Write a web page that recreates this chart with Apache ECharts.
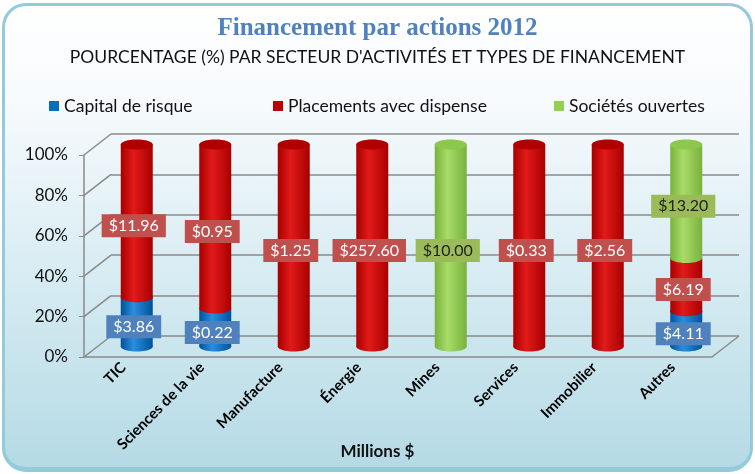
<!DOCTYPE html>
<html>
<head>
<meta charset="utf-8">
<script src="https://cdn.jsdelivr.net/npm/echarts@6/dist/echarts.min.js"></script>
<style>
  body { margin: 0; background: #fff; }
  #frame {
    position: absolute; left: 2px; top: 3px; width: 745px; height: 461px;
    border: 3px solid #93cbdb; border-bottom-width: 5px; border-radius: 24px;
    background: linear-gradient(to bottom, #ffffff 0%, #f6fafc 22%, #d6ebf2 60%, #b5dae5 100%);
  }
  #graph01 { position: absolute; left: 0; top: 0; width: 755px; height: 474px; }
</style>
</head>
<body>
<div id="frame"></div>
<div id="graph01"></div>
<script>
// values in millions $
var categories = ['TIC', 'Sciences de la vie', 'Manufacture', 'Énergie', 'Mines', 'Services', 'Immobilier', 'Autres'];
var capitalRisque = [3.86, 0.22, 0, 0, 0, 0, 0, 4.11];
var placements = [11.96, 0.95, 1.25, 257.60, 0, 0.33, 2.56, 6.19];
var societes = [0, 0, 0, 0, 10.00, 0, 0, 13.20];
var yTicks = [0, 20, 40, 60, 80, 100];

var names = ['Capital de risque', 'Placements avec dispense', 'Sociétés ouvertes'];
var values = [capitalRisque, placements, societes];
var pal = [
    { dark: '#00529a', light: '#2a8ee0', top: '#0d62b0', legend: '#0070c0', box: '#4f81bd', text: '#ffffff' },
    { dark: '#a80000', light: '#e21a1a', top: '#b00000', legend: '#c00000', box: '#c0504d', text: '#ffffff' },
    { dark: '#78b23c', light: '#a8dc68', top: '#8cc84c', legend: '#92d050', box: '#9bbb59', text: '#222222' }
];

// stack to 100%
var segs = [[], [], []];
var allSegs = [];
for (var i = 0; i < categories.length; i++) {
    var total = capitalRisque[i] + placements[i] + societes[i];
    var cum = 0;
    for (var s = 0; s < 3; s++) {
        var v = values[s][i];
        if (v > 0) {
            var pct = v / total * 100;
            var seg = { cat: i, start: cum, end: cum + pct, value: v, s: s };
            segs[s].push(seg);
            allSegs.push(seg);
            cum += pct;
        }
    }
}

var DX = 27, DY = -21;

function cylinderSeries(s) {
    var p = pal[s];
    return {
        name: names[s],
        type: 'custom',
        xAxisIndex: 2,
        yAxisIndex: 2,
        z: 3,
        itemStyle: { color: p.legend },
        encode: { x: 0, y: [1, 2] },
        data: segs[s].map(function (d) { return [d.cat, d.start, d.end]; }),
        renderItem: function (params, api) {
            var a = api.coord([api.value(0), api.value(1)]);
            var b = api.coord([api.value(0), api.value(2)]);
            var rx = 16, ry = 5;
            var grad = new echarts.graphic.LinearGradient(0, 0, 1, 0, [
                { offset: 0, color: p.dark },
                { offset: 0.4, color: p.light },
                { offset: 1, color: p.dark }
            ]);
            var children = [
                { type: 'rect', shape: { x: a[0] - rx, y: b[1], width: rx * 2, height: a[1] - b[1] }, style: { fill: grad } },
                { type: 'ellipse', shape: { cx: a[0], cy: a[1], rx: rx, ry: ry }, style: { fill: grad } }
            ];
            if (api.value(2) >= 99.99) {
                children.push({ type: 'ellipse', shape: { cx: b[0], cy: b[1], rx: rx, ry: ry }, style: { fill: p.top } });
            }
            return { type: 'group', children: children };
        }
    };
}

var series = [cylinderSeries(0), cylinderSeries(1), cylinderSeries(2)];

// value labels
series.push({
    type: 'custom',
    xAxisIndex: 2,
    yAxisIndex: 2,
    z: 6,
    silent: true,
    data: allSegs.map(function (d) { return [d.cat, (d.start + d.end) / 2]; }),
    renderItem: function (params, api) {
        var d = allSegs[params.dataIndex];
        var p = api.coord([api.value(0), api.value(1)]);
        return {
            type: 'text',
            style: {
                text: '$' + d.value.toFixed(2),
                x: p[0] - 3, y: p[1] + 5,
                align: 'center', verticalAlign: 'middle',
                font: '16px Lato', fill: pal[d.s].text,
                backgroundColor: pal[d.s].box, padding: [4, 7, 3, 7]
            }
        };
    }
});

// 3D wall / floor diagonals
series.push({
    type: 'custom',
    xAxisIndex: 0,
    yAxisIndex: 0,
    z: 1,
    silent: true,
    data: yTicks.map(function (t) { return [0, t]; }),
    renderItem: function (params, api) {
        var p = api.coord([0, api.value(1)]);
        var half = api.size([1, 0])[0] / 2;
        var x0 = p[0] - half;
        var lineStyle = { stroke: '#8a8a8a', lineWidth: 1.5 };
        var children = [
            { type: 'line', shape: { x1: x0, y1: p[1], x2: x0 + DX, y2: p[1] + DY }, style: lineStyle }
        ];
        if (api.value(1) === 0) {
            var xr = api.coord([categories.length - 1, 0])[0] + half;
            children.push({ type: 'line', shape: { x1: xr, y1: p[1], x2: xr + DX, y2: p[1] + DY }, style: lineStyle });
        }
        return { type: 'group', children: children };
    }
});

var myChart = echarts.init(document.getElementById('graph01'));
var legendText = { fontFamily: 'Lato', fontSize: 17.5, color: '#111' };
var option = {
    animation: false,
    title: [
        {
            text: 'Financement par actions 2012',
            subtext: "POURCENTAGE (%) PAR SECTEUR D'ACTIVITÉS ET TYPES DE FINANCEMENT",
            left: 'center',
            top: 11,
            itemGap: 7,
            textStyle: { fontFamily: 'Liberation Serif', fontWeight: 'bold', fontSize: 25, color: '#4f81bd' },
            subtextStyle: { fontFamily: 'Lato', fontSize: 17.5, color: '#111' }
        },
        {
            text: 'Millions $',
            left: 'center',
            top: 438,
            textStyle: { fontFamily: 'Lato', fontWeight: 'bold', fontSize: 17, color: '#111' }
        }
    ],
    legend: [
        { data: [names[0]], left: 44, top: 92, icon: 'rect', itemWidth: 10, itemHeight: 10, itemGap: 4, textStyle: legendText },
        { data: [names[1]], left: 268, top: 92, icon: 'rect', itemWidth: 10, itemHeight: 10, textStyle: legendText },
        { data: [names[2]], left: 549, top: 92, icon: 'rect', itemWidth: 10, itemHeight: 10, textStyle: legendText }
    ],
    grid: [
        // front plane (axes)
        { left: 84, right: 43, top: 155, bottom: 117 },
        // back wall
        { left: 84 + DX, right: 43 - DX, top: 155 + DY, bottom: 117 - DY },
        // cylinders, mid depth
        { left: 84 + DX / 2, right: 43 - DX / 2, top: 155 + DY / 2, bottom: 117 - DY / 2 }
    ],
    xAxis: [
        {
            gridIndex: 0, type: 'category', data: categories,
            axisLine: { lineStyle: { color: '#8a8a8a', width: 1.5 } },
            axisTick: { length: 5, lineStyle: { color: '#8a8a8a' } },
            axisLabel: { rotate: 45, margin: 8, fontFamily: 'Lato', fontWeight: 'bold', fontSize: 15, color: '#000' }
        },
        { gridIndex: 1, type: 'value', min: 0, max: 1, show: false },
        { gridIndex: 2, type: 'category', data: categories, show: false }
    ],
    yAxis: [
        {
            gridIndex: 0, type: 'value', min: 0, max: 100, interval: 20,
            axisLine: { show: true, lineStyle: { color: '#8a8a8a', width: 1.5 } },
            axisTick: { show: true, length: 5, lineStyle: { color: '#8a8a8a' } },
            splitLine: { show: false },
            axisLabel: { formatter: '{value}%', margin: 16, fontFamily: 'Lato', fontSize: 17, color: '#111' }
        },
        {
            gridIndex: 1, type: 'value', min: 0, max: 100, interval: 20,
            axisLine: { show: false }, axisTick: { show: false }, axisLabel: { show: false },
            splitLine: { lineStyle: { color: '#8a8a8a', width: 1.5 } }
        },
        { gridIndex: 2, type: 'value', min: 0, max: 100, show: false, splitLine: { show: false } }
    ],
    series: series
};
myChart.setOption(option);
</script>
</body>
</html>
